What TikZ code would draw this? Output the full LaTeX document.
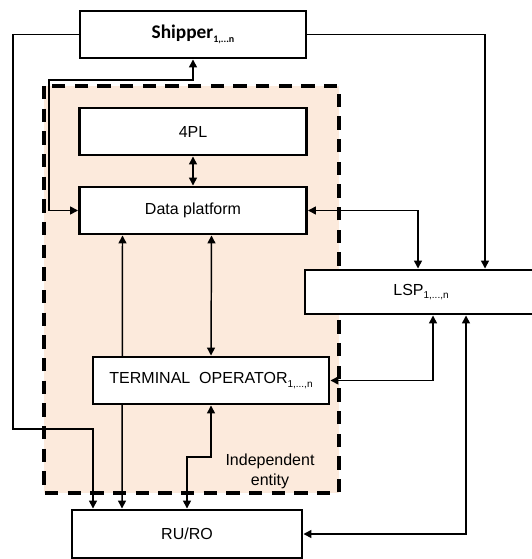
\documentclass[tikz,border=0pt]{standalone}
\usepackage{fontspec}
\setmainfont{Liberation Sans}
\newfontfamily\shipperfont{Carlito}
\usepackage{tikz}
\usetikzlibrary{positioning,arrows.meta,calc}
\definecolor{indepfill}{RGB}{252,234,220}
\definecolor{boxgray}{RGB}{20,20,20}
\newcommand{\idx}[1]{\raisebox{-0.4ex}{\fontsize{7.5}{8}\selectfont #1}}
\pgfdeclarelayer{back}
\pgfdeclarelayer{links}
\pgfsetlayers{back,links,main}

\begin{document}
\begin{tikzpicture}[
    x=0.75pt, y=-0.75pt,
    actor/.style={rectangle, draw=black, line width=2.2pt, fill=white, align=center, minimum height=35.25pt, font=\fontsize{12}{14}\selectfont},
    indep/.style={draw=black, line width=2.3pt, dash pattern=on 10pt off 7pt, fill=indepfill},
    link/.style={line width=1.1pt, draw=black},
    >={Triangle[length=6pt, width=6pt]}
  ]
    \useasboundingbox (0,0) rectangle (531,559);

    \node[actor, minimum width=169.5pt] (shipper) at (193,34.5) {\shipperfont\fontsize{14.5}{16}\selectfont\bfseries Shipper\idx{\shipperfont\bfseries 1,...n}};
    \node[actor, minimum width=170.25pt, below=35.3pt of shipper] (fourpl) {4PL};
    \node[actor, minimum width=170.25pt, below=21.8pt of fourpl] (platform) {Data platform};
    \node[actor, minimum width=177pt] (terminal) at (211,380.5) {TERMINAL\ \ OPERATOR\idx{1,...,n}};
    \node[actor, minimum width=174pt, minimum height=33pt] (lsp) at (421,292) {LSP\idx{1,...,n}};
    \node[actor, minimum width=172.5pt, minimum height=36pt] (ruro) at (187,534) {RU/RO};

    \begin{pgfonlayer}{back}
      \draw[indep] (44,86) rectangle (339,493);
    \end{pgfonlayer}
    \node[align=center, font=\fontsize{12}{15}\selectfont] (indeplabel) at (270,471) {Independent\\entity};

    \begin{pgfonlayer}{links}
      \draw[link, ->] (shipper.west) -| (13,429) -| ($(ruro.north)+(-94,0)$);
      \draw[link, ->] (shipper.east) -| ($(lsp.north)+(64,0)$);
      \draw[link, <->] (shipper.south) |- (49,80) |- (platform.west);
      \draw[link, <->] (fourpl.south) -- (platform.north);
      \draw[link, <->] (platform.east) -| ($(lsp.north)+(-3,0)$);
      \draw[link, <->] ($(platform.south)+(-70.5,0)$) -- ($(ruro.north)+(-65,0)$);
      \draw[link, <->] ($(platform.south)+(18.5,0)$) -- (terminal.north);
      \draw[link, <->] (terminal.south) |- ($(ruro.north)+(0,-51.5)$) -- (ruro.north);
      \draw[link, <->] (terminal.east) -| ($(lsp.south)+(12,0)$);
      \draw[link, <->] (ruro.east) -| ($(lsp.south)+(45,0)$);
    \end{pgfonlayer}
  \end{tikzpicture}
\end{document}
